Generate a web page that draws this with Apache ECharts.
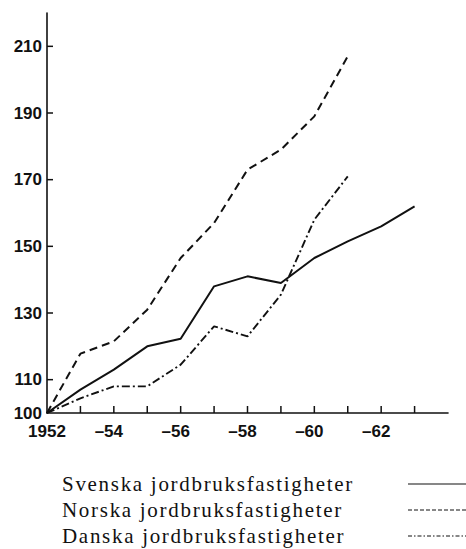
<!DOCTYPE html>
<html><head><meta charset="utf-8">
<script src="https://cdn.jsdelivr.net/npm/echarts@6/dist/echarts.min.js"></script>
<style>
html,body{margin:0;padding:0;background:#fff}
#chart{width:466px;height:549px}
#chart text[style*="Liberation Serif"]{letter-spacing:1.7px}
</style></head><body><div id="chart"></div>
<script>
// ---- data ----
const years = [1952, 1953, 1954, 1955, 1956, 1957, 1958, 1959, 1960, 1961, 1962, 1963];
const svenska = [100, 107, 113, 120, 122.3, 138, 141, 139, 146.5, 151.5, 156, 162];
const norska  = [100, 117.8, 121.5, 131, 146.5, 157, 173, 179, 189, 207];
const danska  = [100, 104.4, 108, 108, 114.5, 126, 123, 135.5, 158, 171];
const seriesNames = ['Svenska jordbruksfastigheter', 'Norska jordbruksfastigheter', 'Danska jordbruksfastigheter'];
const xLabelYears = [1952, 1954, 1956, 1958, 1960, 1962];
const xLabelTexts = ['1952', '–54', '–56', '–58', '–60', '–62'];
const yLabelValues = [100, 110, 130, 150, 170, 190, 210];
const xTickValues = [1953, 1954, 1955, 1956, 1957, 1958, 1959, 1960, 1961, 1962, 1963];
const yTickValues = [110, 130, 150, 170, 190, 210];
const xMin = 1952, xMax = 1964, yMin = 100, yMax = 220;

const pair = (arr) => arr.map((v, i) => [years[i], v]);
const ink = '#111';
const numFont = "'Liberation Sans', Arial, sans-serif";

const chart = echarts.init(document.getElementById('chart'), null, {renderer: 'svg'});
chart.setOption({
  animation: false,
  backgroundColor: '#fff',
  grid: {left: 47, right: 18, top: 13, bottom: 136, containLabel: false},
  xAxis: {
    type: 'value', min: xMin, max: xMax, interval: 1,
    splitLine: {show: false},
    axisTick: {show: false},
    axisLine: {lineStyle: {color: ink, width: 1.6}},
    axisLabel: {
      margin: 10,
      fontFamily: numFont, fontWeight: 'bold', fontSize: 17, color: ink,
      formatter: (v) => {
        const i = xLabelYears.indexOf(v);
        if (i < 0) return '';
        return i === 0 ? '{y|' + xLabelTexts[i] + '}' : '{m|' + xLabelTexts[i] + '}';
      },
      rich: {
        y: {fontFamily: numFont, fontWeight: 'bold', fontSize: 17, color: ink},
        m: {fontFamily: numFont, fontWeight: 'bold', fontSize: 17, color: ink, padding: [0, 10, 0, 0]}
      }
    }
  },
  yAxis: {
    type: 'value', min: yMin, max: yMax, interval: 10,
    splitLine: {show: false},
    axisTick: {show: false},
    axisLine: {show: true, lineStyle: {color: ink, width: 1.6}},
    axisLabel: {
      margin: 5,
      fontFamily: numFont, fontWeight: 'bold', fontSize: 17, color: ink,
      formatter: (v) => yLabelValues.indexOf(v) >= 0 ? String(v) : ''
    }
  },
  legend: {
    orient: 'vertical', align: 'right',
    left: 62, top: 471, itemGap: 0, padding: 0,
    itemWidth: 58, itemHeight: 14,
    selectedMode: false,
    itemStyle: {opacity: 0},
    data: [
      {name: seriesNames[0], lineStyle: {width: 1.2, type: 'solid', color: ink}},
      {name: seriesNames[1], lineStyle: {width: 1.2, type: [4, 2], color: ink}},
      {name: seriesNames[2], lineStyle: {width: 1.2, type: [4, 2, 1.5, 2], color: ink}}
    ],
    formatter: (name) => '{t|' + name + '}',
    textStyle: {
      fontFamily: 'Liberation Serif', fontSize: 21, lineHeight: 26, color: ink,
      rich: {t: {width: 341, align: 'left', fontFamily: 'Liberation Serif', fontSize: 21, lineHeight: 26, color: ink}}
    }
  },
  series: [
    {name: seriesNames[0], type: 'line', data: pair(svenska), symbol: 'none',
     lineStyle: {color: ink, width: 2, type: 'solid'}, itemStyle: {color: ink}},
    {name: seriesNames[1], type: 'line', data: pair(norska), symbol: 'none',
     lineStyle: {color: ink, width: 2, type: [8, 5]}, itemStyle: {color: ink}},
    {name: seriesNames[2], type: 'line', data: pair(danska), symbol: 'none',
     lineStyle: {color: ink, width: 1.9, type: [8, 3, 2, 3]}, itemStyle: {color: ink}},
    {name: 'xticks', type: 'custom', silent: true, clip: false,
     data: xTickValues.map(v => [v, yMin]),
     renderItem: (params, api) => {
       const p = api.coord([api.value(0), api.value(1)]);
       return {type: 'line', shape: {x1: p[0], y1: p[1], x2: p[0], y2: p[1] - 7},
               style: {stroke: ink, lineWidth: 1.5}};
     }},
    {name: 'yticks', type: 'custom', silent: true, clip: false,
     data: yTickValues.map(v => [xMin, v]),
     renderItem: (params, api) => {
       const p = api.coord([api.value(0), api.value(1)]);
       return {type: 'line', shape: {x1: p[0], y1: p[1], x2: p[0] + 6, y2: p[1]},
               style: {stroke: ink, lineWidth: 1.5}};
     }}
  ]
});
</script></body></html>
